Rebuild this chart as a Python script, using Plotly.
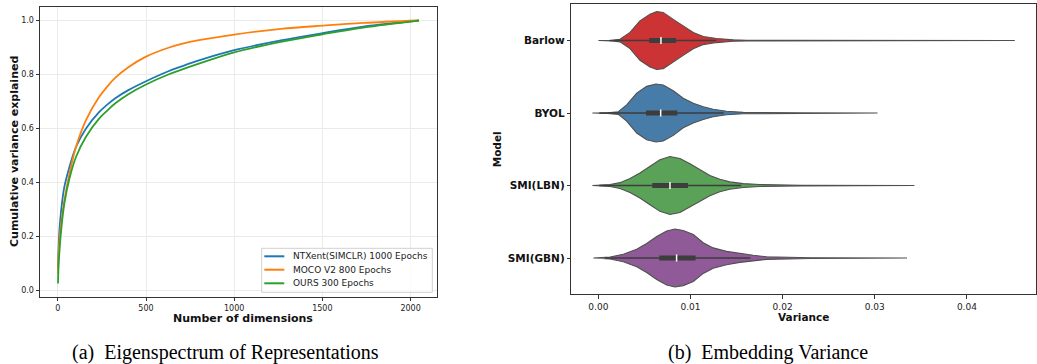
import plotly.graph_objects as go

W, H = 1037, 364

# ---------------- Left chart: cumulative explained variance ----------------
dims = [1, 5, 10, 19, 37, 66, 103, 159, 234, 280, 328, 400, 500, 627, 702, 800, 1000, 1264, 1500, 1732, 2048]
ntxent = [0.08, 0.17, 0.23, 0.296, 0.383, 0.457, 0.531, 0.599, 0.66, 0.688, 0.713, 0.742, 0.775, 0.812, 0.830, 0.852, 0.890, 0.926, 0.953, 0.977, 1.0]
moco = [0.06, 0.14, 0.19, 0.247, 0.333, 0.432, 0.531, 0.63, 0.716, 0.755, 0.789, 0.827, 0.866, 0.899, 0.913, 0.927, 0.948, 0.969, 0.981, 0.991, 1.0]
ours = [0.025, 0.10, 0.15, 0.222, 0.321, 0.414, 0.494, 0.568, 0.636, 0.666, 0.694, 0.727, 0.763, 0.800, 0.818, 0.840, 0.882, 0.921, 0.949, 0.974, 1.0]
series_names = ["NTXent(SIMCLR) 1000 Epochs", "MOCO V2 800 Epochs", "OURS 300 Epochs"]
series_colors = ["#1f77b4", "#ff7f0e", "#2ca02c"]
left_xticks = [0, 500, 1000, 1500, 2000]
left_yticks = [0.0, 0.2, 0.4, 0.6, 0.8, 1.0]

# ---------------- Right chart: embedding variance violins ----------------
models = ["Barlow", "BYOL", "SMI(LBN)", "SMI(GBN)"]
barlow_x = [0.0, 0.0015, 0.00235, 0.00343, 0.00451, 0.0056, 0.00633, 0.00704, 0.00813, 0.00921, 0.0103, 0.01138, 0.01283, 0.01463, 0.0161, 0.02, 0.03, 0.0452]
barlow_d = [0.0, 0.01, 0.045, 0.28, 0.68, 0.91, 1.0, 0.97, 0.73, 0.51, 0.28, 0.14, 0.07, 0.025, 0.012, 0.006, 0.004, 0.0]
byol_x = [-0.00065, 0.001, 0.00217, 0.00307, 0.00416, 0.00524, 0.00625, 0.00704, 0.00813, 0.00921, 0.0103, 0.01138, 0.01246, 0.01391, 0.01571, 0.0175, 0.022, 0.0303]
byol_d = [0.0, 0.01, 0.045, 0.28, 0.69, 0.92, 1.0, 0.965, 0.77, 0.51, 0.34, 0.22, 0.13, 0.06, 0.025, 0.012, 0.005, 0.0]
lbn_x = [-0.00065, 0.00127, 0.00235, 0.00343, 0.00451, 0.0056, 0.00668, 0.00777, 0.00885, 0.00994, 0.01102, 0.0121, 0.01318, 0.01427, 0.01571, 0.0175, 0.022, 0.0343]
lbn_d = [0.0, 0.034, 0.10, 0.24, 0.43, 0.66, 0.89, 1.0, 0.93, 0.75, 0.55, 0.35, 0.215, 0.126, 0.068, 0.034, 0.01, 0.0]
gbn_x = [-0.00054, 0.00127, 0.00271, 0.00416, 0.00524, 0.00633, 0.00741, 0.00831, 0.00921, 0.0103, 0.01138, 0.01246, 0.01391, 0.01535, 0.0168, 0.01825, 0.023, 0.0335]
gbn_d = [0.0, 0.035, 0.13, 0.30, 0.50, 0.74, 0.93, 1.0, 0.95, 0.81, 0.53, 0.35, 0.23, 0.15, 0.094, 0.045, 0.012, 0.0]
q1 = [0.00553, 0.00517, 0.00585, 0.00661]
medians = [0.00679, 0.00676, 0.00777, 0.00849]
q3 = [0.00842, 0.00856, 0.00972, 0.01055]
whisk_lo = [0.0012, 0.0001, 0.0001, 0.0007]
whisk_hi = [0.0128, 0.0136, 0.0155, 0.0165]
violin_colors = ["#cb3335", "#477ca8", "#59a257", "#905998"]
right_xticks = [0.0, 0.01, 0.02, 0.03, 0.04]

profiles = [(barlow_x, barlow_d), (byol_x, byol_d), (lbn_x, lbn_d), (gbn_x, gbn_d)]
HALF = 0.4

fig = go.Figure()

for name, ys, col in zip(series_names, [ntxent, moco, ours], series_colors):
    fig.add_trace(go.Scatter(x=dims, y=ys, mode="lines", name=name,
                             line=dict(color=col, width=1.8, shape="spline", smoothing=1.0),
                             xaxis="x", yaxis="y", showlegend=False))

for i, ((xs, ds), col) in enumerate(zip(profiles, violin_colors)):
    px = list(xs) + list(xs[::-1])
    py = [i - HALF * d for d in ds] + [i + HALF * d for d in ds[::-1]]
    fig.add_trace(go.Scatter(x=px, y=py, mode="lines", fill="toself", fillcolor=col,
                             line=dict(color="#505050", width=1.1), xaxis="x2", yaxis="y2",
                             showlegend=False, hoverinfo="skip"))
    fig.add_trace(go.Scatter(x=[whisk_lo[i], whisk_hi[i]], y=[i, i], mode="lines",
                             line=dict(color="#3d3d3d", width=1.5), xaxis="x2", yaxis="y2",
                             showlegend=False))
    fig.add_trace(go.Scatter(x=[q1[i], q3[i]], y=[i, i], mode="lines",
                             line=dict(color="#3d3d3d", width=5), xaxis="x2", yaxis="y2",
                             showlegend=False))
    fig.add_trace(go.Scatter(x=[medians[i]], y=[i], mode="markers",
                             marker=dict(symbol="line-ns", size=5, line=dict(color="white", width=1.5)),
                             xaxis="x2", yaxis="y2", showlegend=False))

def fx(p):
    return p / W

def fy(p):
    return 1 - p / H

tickfont = dict(family="DejaVu Sans", size=8, color="#222")
axis_common = dict(showline=True, mirror=True, linecolor="#333", linewidth=1,
                   ticks="outside", ticklen=3.5, tickcolor="#333", tickwidth=1,
                   zeroline=False, automargin=False)

fig.update_layout(
    width=W, height=H, margin=dict(l=0, r=0, t=0, b=0),
    paper_bgcolor="white", plot_bgcolor="white", showlegend=False,
    xaxis=dict(domain=[fx(40), fx(437)], range=[-101, 2150], tickvals=left_xticks,
               showgrid=True, gridcolor="#ebebeb", gridwidth=1, tickfont=tickfont,
               anchor="y", **axis_common),
    yaxis=dict(domain=[fy(296.7), fy(7.3)], range=[-0.024, 1.049], tickvals=left_yticks,
               tickformat=".1f", showgrid=True, gridcolor="#ebebeb", gridwidth=1,
               tickfont=tickfont, anchor="x", **axis_common),
    xaxis2=dict(domain=[fx(571.3), fx(1036)], range=[-0.00294, 0.0475], tickvals=right_xticks,
                tickformat=".2f", showgrid=False, tickfont=dict(family="DejaVu Sans", size=9, color="#222"),
                anchor="y2", **axis_common),
    yaxis2=dict(domain=[fy(294.3), fy(4.3)], range=[3.5, -0.5], tickvals=[0, 1, 2, 3],
                ticktext=["<b>%s</b>" % m for m in models], showgrid=False,
                tickfont=dict(family="DejaVu Sans", size=10.5, color="#111"),
                anchor="x2", **axis_common),
)

def note(x, y, text, font, angle=0, xanchor="center"):
    fig.add_annotation(x=fx(x), y=fy(y), xref="paper", yref="paper", text=text,
                       showarrow=False, xanchor=xanchor, yanchor="middle",
                       textangle=angle, font=font)

# legend box (matplotlib-style)
fig.add_shape(type="rect", xref="paper", yref="paper", x0=fx(261.7), x1=fx(432.3),
              y0=fy(292.3), y1=fy(248.3), fillcolor="rgba(255,255,255,0.8)",
              line=dict(color="#d0d0d0", width=1))
row_y = [256.3, 269.7, 283.3]
for name, col, ry in zip(series_names, series_colors, row_y):
    fig.add_shape(type="line", xref="paper", yref="paper", x0=fx(264.3), x1=fx(284.3),
                  y0=fy(ry), y1=fy(ry), line=dict(color=col, width=2))
    note(291, ry, name, dict(family="DejaVu Sans", size=9, color="#222"), xanchor="left")

bold = dict(family="DejaVu Sans", size=11, color="#111")
note(14, 152, "<b>Cumulative variance explained</b>", bold, angle=-90)
note(243, 318, "<b>Number of dimensions</b>", bold)
note(497, 149.3, "<b>Model</b>", dict(family="DejaVu Sans", size=10.5, color="#111"), angle=-90)
note(803.5, 317, "<b>Variance</b>", dict(family="DejaVu Sans", size=10.5, color="#111"))

cap = dict(family="Liberation Serif", size=20, color="black")
note(225, 352, "(a)  Eigenspectrum of Representations", cap)
note(768, 352, "(b)  Embedding Variance", cap)

fig.write_html("out.html")
